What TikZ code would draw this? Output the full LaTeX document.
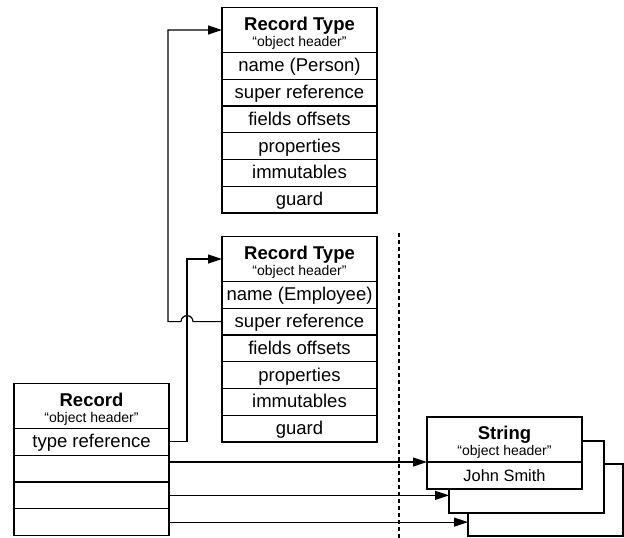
\documentclass[tikz,border=0pt]{standalone}
\usepackage{fontspec}
\setmainfont{Liberation Sans}
\usetikzlibrary{arrows.meta,positioning}

\begin{document}
\begin{tikzpicture}[x=1pt,y=-1pt,
  every node/.style={outer sep=0pt},
  cell/.style={draw, fill=white, line width=1.2pt, minimum width=155pt, minimum height=26.75pt,
    inner sep=0pt, text height=16pt, text depth=4pt, font=\fontsize{18.5}{20}\selectfont},
  head/.style={draw, fill=white, line width=1.2pt, minimum width=155pt, minimum height=45pt, inner sep=0pt},
  title/.style={anchor=base, inner sep=0pt, font=\fontsize{18.5}{20}\selectfont\bfseries},
  subtitle/.style={anchor=base, inner sep=0pt, font=\fontsize{14}{16}\selectfont},
  ref/.style={line width=1.2pt, -{Triangle[length=14pt,width=9pt]}},
  divider/.style={line width=1.2pt, dash pattern=on 4pt off 3pt},
  ]
\useasboundingbox (0,0) rectangle (624,538);

% ---- Record Type (Person) ----
\node[head] (ptHead) at (299.5,30) {};
\node[title]    (ptTitle) at ([yshift=-22.5pt]ptHead.north) {Record Type};
\node[subtitle] (ptSub)   at ([yshift=-38.5pt]ptHead.north) {“object header”};
\node[cell, below=0pt of ptHead]  (ptName)  {name (Person)};
\node[cell, below=0pt of ptName]  (ptSuper) {super reference};
\node[cell, below=0pt of ptSuper] (ptOff)   {fields offsets};
\node[cell, below=0pt of ptOff]   (ptProp)  {properties};
\node[cell, below=0pt of ptProp]  (ptImm)   {immutables};
\node[cell, below=0pt of ptImm]   (ptGuard) {guard};

% ---- Record Type (Employee) ----
\node[head] (etHead) at (299.5,259) {};
\node[title]    (etTitle) at ([yshift=-22.5pt]etHead.north) {Record Type};
\node[subtitle] (etSub)   at ([yshift=-38.5pt]etHead.north) {“object header”};
\node[cell, below=0pt of etHead]  (etName)  {name (Employee)};
\node[cell, below=0pt of etName]  (etSuper) {super reference};
\node[cell, below=0pt of etSuper] (etOff)   {fields offsets};
\node[cell, below=0pt of etOff]   (etProp)  {properties};
\node[cell, below=0pt of etProp]  (etImm)   {immutables};
\node[cell, below=0pt of etImm]   (etGuard) {guard};

% ---- Record instance ----
\node[head] (recHead) at (91.5,406) {};
\node[title]    (recTitle) at ([yshift=-22.5pt]recHead.north) {Record};
\node[subtitle] (recSub)   at ([yshift=-38.5pt]recHead.north) {“object header”};
\node[cell, below=0pt of recHead] (recType) {type reference};
\node[cell, below=0pt of recType] (recA) {};
\node[cell, below=0pt of recA]    (recB) {};
\node[cell, below=0pt of recB]    (recC) {};

% ---- String instances (stacked copies behind the front one) ----
\node[draw, fill=white, line width=1.2pt, minimum width=155pt, minimum height=72pt] (strC) at (545.5,500) {};
\node[draw, fill=white, line width=1.2pt, minimum width=155pt, minimum height=72pt] (strB) at (526.5,477) {};
\node[head] (strHead) at (504.5,439.5) {};
\node[title]    (strTitle) at ([yshift=-22.5pt]strHead.north) {String};
\node[subtitle] (strSub)   at ([yshift=-38.5pt]strHead.north) {“object header”};
\node[cell, minimum height=27pt, font=\fontsize{16.4}{18}\selectfont, text height=14pt, text depth=3pt,
  below=0pt of strHead] (strVal) {John Smith};

% ---- divider ----
\coordinate (divTop) at (399,233);
\coordinate (divBot) at (399,538);
\draw[divider] (divTop) -- (divBot);

% ---- references ----
\draw[ref] (recType.east) -- ++(18,0) |- (etHead.west);
\draw[ref] (etSuper.west) -- ([xshift=-29pt]etSuper.west)
  arc[start angle=0, end angle=180, radius=6pt]
  -- ([xshift=-54pt]etSuper.west) |- (ptHead.west);
\draw[ref] (recA.east |- strHead.south) -- (strHead.south west);
\draw[ref] (recB.east) -- (recB.east -| strB.west);
\draw[ref] (recC.east) -- (recC.east -| strC.west);
\end{tikzpicture}
\end{document}
